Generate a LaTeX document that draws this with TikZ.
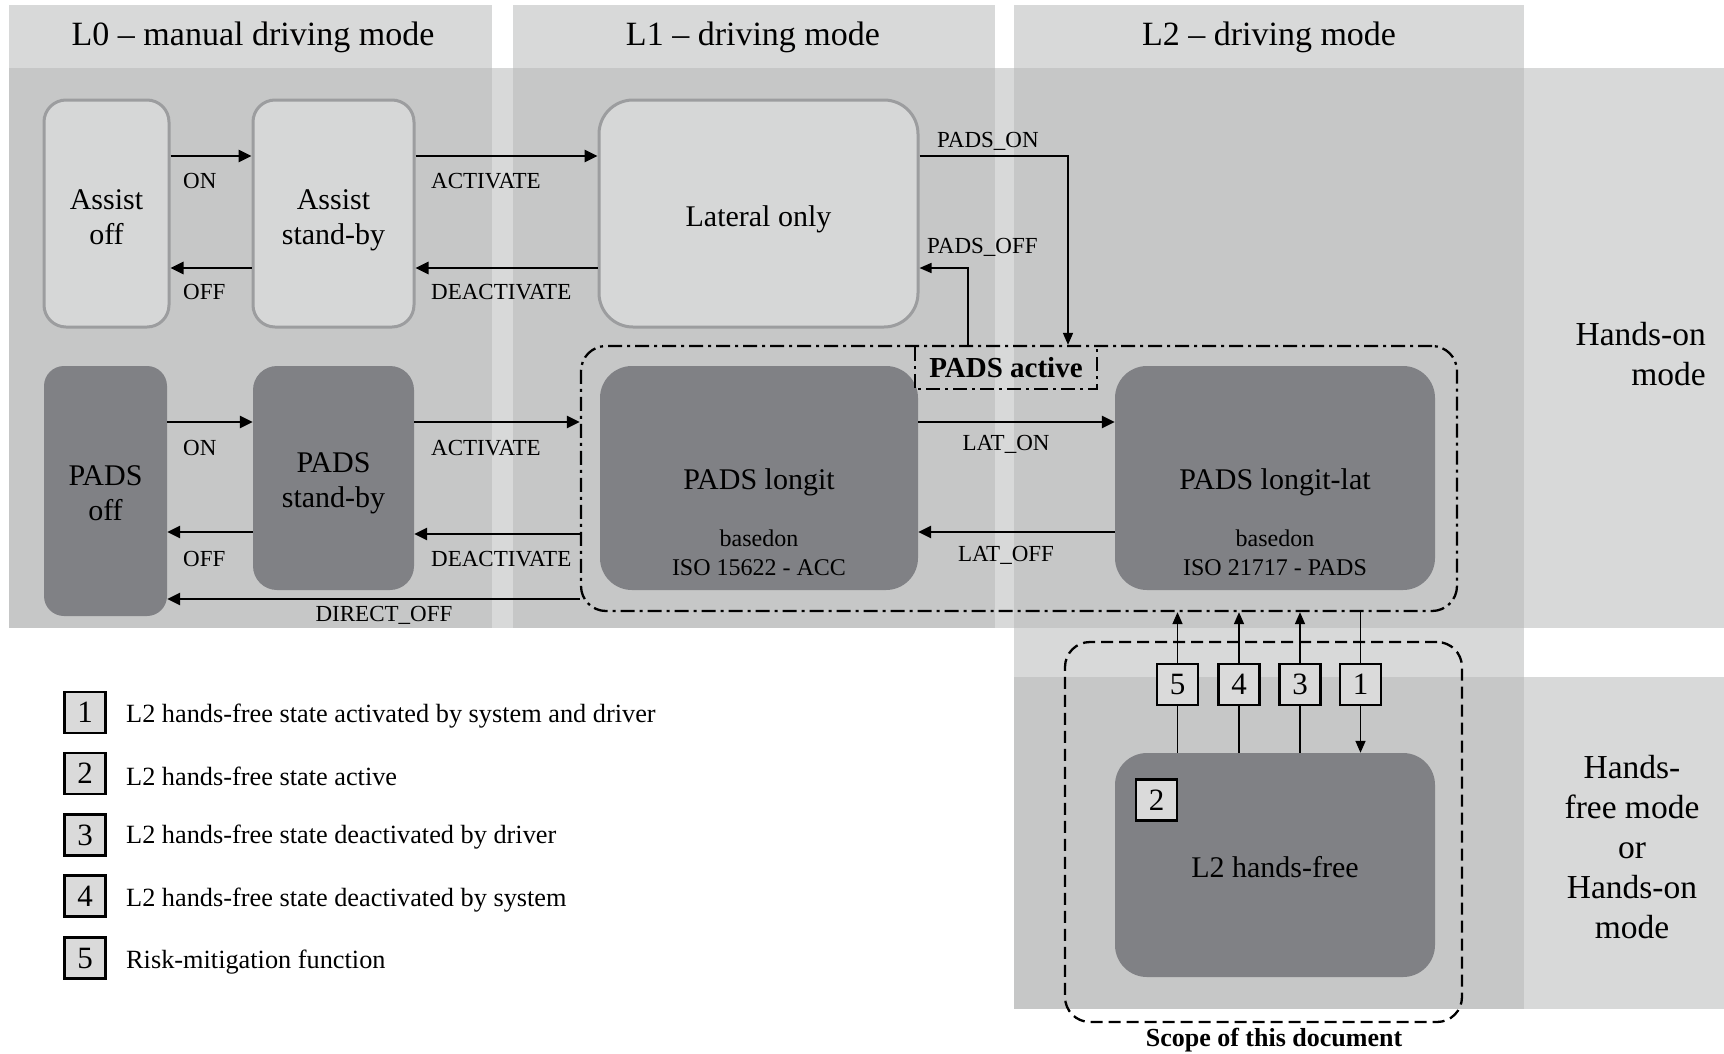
\documentclass[tikz,border=0pt]{standalone}
\usepackage{fontspec}
\setmainfont{Liberation Serif}
\usetikzlibrary{arrows.meta}
\definecolor{bglight}{HTML}{D8D9D9}
\definecolor{bgdark}{HTML}{C6C7C7}
\definecolor{nodelight}{HTML}{D6D7D7}
\definecolor{nodeborder}{HTML}{9C9D9F}
\definecolor{nodedark}{HTML}{808185}
\definecolor{numfill}{HTML}{DADADA}
\begin{document}
\begin{tikzpicture}[x=1pt,y=-1pt,
  lightstate/.style={draw=nodeborder, line width=3pt, fill=nodelight, rounded corners=22pt, inner sep=0pt},
  darkstate/.style={fill=nodedark, rounded corners=32pt, inner sep=0pt},
  stxt/.style={inner sep=0pt, align=center, font=\fontsize{30}{35}\selectfont},
  arr/.style={line width=2.6pt, -{Triangle[length=13pt,width=12pt]}},
  thinarr/.style={line width=1.6pt, -{Triangle[length=12pt,width=10pt]}},
  thinline/.style={line width=1.6pt},
  lbl/.style={font=\fontsize{23}{27}\selectfont, inner sep=0pt},
  subtxt/.style={font=\fontsize{24}{29}\selectfont, inner sep=0pt, align=center},
  title/.style={font=\fontsize{34}{40}\selectfont, inner sep=0pt},
  sidetxt/.style={font=\fontsize{33.5}{40}\selectfont, inner sep=0pt},
  legtxt/.style={font=\fontsize{26.3}{30}\selectfont, inner sep=0pt, anchor=west},
  numbox/.style={draw=black, line width=2.6pt, fill=numfill, minimum width=41pt, minimum height=41pt, inner sep=0pt, font=\fontsize{31}{31}\selectfont},
  dashdot/.style={line width=2.3pt, dash pattern=on 14pt off 5pt on 3pt off 5pt},
]
\useasboundingbox (0,0) rectangle (1724,1053);
% background bands
\fill[bglight] (9,5) rectangle (492,628);
\fill[bglight] (513,5) rectangle (995,628);
\fill[bglight] (1014,5) rectangle (1524,1009);
\fill[bglight] (9,68) rectangle (1724,628);
\fill[bglight] (1014,677) rectangle (1724,1009);
\fill[bgdark] (9,68) rectangle (492,628);
\fill[bgdark] (513,68) rectangle (995,628);
\fill[bgdark] (1014,68) rectangle (1524,628);
\fill[bgdark] (1014,677) rectangle (1524,1009);

% titles
\node[title] (t0) at (253,37.5) {L0 – manual driving mode};
\node[title] (t1) at (753,37.5) {L1 – driving mode};
\node[title] (t2) at (1269,37.5) {L2 – driving mode};

% states
\node[lightstate, minimum width=125pt, minimum height=227pt] (asoff) at (106.5,213.5) {};
\node[stxt] (asoffT) at ([yshift=-3.5pt]asoff.center) {Assist\\off};
\node[lightstate, minimum width=161pt, minimum height=227pt] (asstb) at (333.5,213.5) {};
\node[stxt] (asstbT) at ([yshift=-6.5pt]asstb.center) {Assist\\stand-by};
\node[lightstate, rounded corners=34pt, minimum width=319pt, minimum height=227pt] (latonly) at (758.5,213.5) {};
\node[stxt] (latonlyT) at ([yshift=-5.5pt]latonly.center) {Lateral only};

\node[darkstate, rounded corners=20pt, minimum width=123pt, minimum height=250pt] (padsoff) at (105.5,491) {};
\node[stxt] (padsoffT) at ([yshift=-2.5pt]padsoff.center) {PADS\\off};
\node[darkstate, rounded corners=24pt, minimum width=161pt, minimum height=224pt] (padsstb) at (333.5,478) {};
\node[stxt] (padsstbT) at ([yshift=-5.5pt]padsstb.center) {PADS\\stand-by};
\node[darkstate, minimum width=318pt, minimum height=224pt] (plong) at (759,478) {};
\node[stxt] (plongT) at ([yshift=-4.5pt]plong.center) {PADS longit};
\node[subtxt] (plongsub) at (759,553) {basedon\\ISO 15622 - ACC};
\node[darkstate, minimum width=320pt, minimum height=224pt] (plat) at (1275,478) {};
\node[stxt] (platT) at ([yshift=-4.5pt]plat.center) {PADS longit-lat};
\node[subtxt] (platsub) at (1275,553) {basedon\\ISO 21717 - PADS};
\node[darkstate, minimum width=320pt, minimum height=224pt] (l2hf) at (1275,865) {};
\node[stxt] (l2hfT) at ([yshift=-2.5pt]l2hf.center) {L2 hands-free};

% PADS active container
\node[draw, dashdot, rounded corners=25pt, minimum width=876pt, minimum height=265pt, inner sep=0pt] (padsact) at (1019,478.5) {};
\node[font=\bfseries\fontsize{29}{33}\selectfont, minimum width=182pt, minimum height=42pt, inner sep=0pt] (padsactlbl) at (1006,368) {PADS active};
\draw[dashdot, line width=2pt] (padsactlbl.north west) -- (padsactlbl.south west) -- (padsactlbl.south east) -- (padsactlbl.north east);

% scope container
\node[draw, line width=2.3pt, dash pattern=on 12pt off 6pt, rounded corners=25pt, minimum width=397pt, minimum height=380pt, inner sep=0pt] (scope) at (1263.5,832) {};
\node[font=\bfseries\fontsize{26}{30}\selectfont, inner sep=0pt] (scopelbl) at (1274,1040) {Scope of this document};

% top row arrows
\draw[arr] (asoff.east |- 0,156) -- (asstb.west |- 0,156);
\draw[arr] (asstb.west |- 0,268) -- (asoff.east |- 0,268);
\draw[arr] (asstb.east |- 0,156) -- (latonly.west |- 0,156);
\draw[arr] (latonly.west |- 0,268) -- (asstb.east |- 0,268);
\node[lbl, anchor=west] (lon1) at (183,181) {ON};
\node[lbl, anchor=west] (loff1) at (183,292) {OFF};
\node[lbl, anchor=west] (lact1) at (431,181) {ACTIVATE};
\node[lbl, anchor=west] (ldeact1) at (431,292) {DEACTIVATE};

% PADS_ON / PADS_OFF
\draw[thinarr] (latonly.east |- 0,156) -| (padsact.north -| 1068,0);
\draw[thinarr] (padsact.north -| 968,0) |- (latonly.east |- 0,268);
\node[lbl, anchor=west] (lpadson) at (937,141) {PADS\_ON};
\node[lbl, anchor=west] (lpadsoff) at (927,247) {PADS\_OFF};

% bottom row arrows
\draw[arr] (padsoff.east |- 0,422) -- (padsstb.west |- 0,422);
\draw[arr] (padsstb.west |- 0,532) -- (padsoff.east |- 0,532);
\draw[arr] (padsstb.east |- 0,422) -- (padsact.west |- 0,422);
\draw[arr] (padsact.west |- 0,534) -- (padsstb.east |- 0,534);
\draw[arr] (padsact.west |- 0,599) -- (padsoff.east |- 0,599);
\draw[arr] (plong.east |- 0,422) -- (plat.west |- 0,422);
\draw[arr] (plat.west |- 0,532) -- (plong.east |- 0,532);
\node[lbl, anchor=west] (lon2) at (183,448) {ON};
\node[lbl, anchor=west] (loff2) at (183,559) {OFF};
\node[lbl, anchor=west] (lact2) at (431,448) {ACTIVATE};
\node[lbl, anchor=west] (ldeact2) at (431,559) {DEACTIVATE};
\node[lbl] (ldirect) at (384,615) {DIRECT\_OFF};
\node[lbl] (llaton) at (1006,444) {LAT\_ON};
\node[lbl] (llatoff) at (1006,555) {LAT\_OFF};

% numbered transitions
\node[numbox] (n5) at (1177.5,684.5) {5};
\node[numbox] (n4) at (1239,684.5) {4};
\node[numbox] (n3) at (1300,684.5) {3};
\node[numbox] (n1) at (1360.5,684.5) {1};
\node[numbox] (n2) at (1156.5,800) {2};
\draw[thinline] (l2hf.north -| n5) -- (n5.south);
\draw[thinarr] (n5.north) -- (padsact.south -| n5);
\draw[thinline] (l2hf.north -| n4) -- (n4.south);
\draw[thinarr] (n4.north) -- (padsact.south -| n4);
\draw[thinline] (l2hf.north -| n3) -- (n3.south);
\draw[thinarr] (n3.north) -- (padsact.south -| n3);
\draw[thinline] (padsact.south -| n1) -- (n1.north);
\draw[thinarr] (n1.south) -- (l2hf.north -| n1);

% side labels
\node[sidetxt, align=right, anchor=east] (handson) at (1706,354) {Hands-on\\mode};
\node[sidetxt, align=center] (handsfree) at (1632,847) {Hands-\\free mode\\or\\Hands-on\\mode};

% legend
\node[numbox] (lg1) at (85,712.5) {1};
\node[numbox] (lg2) at (85,773.5) {2};
\node[numbox] (lg3) at (85,835) {3};
\node[numbox] (lg4) at (85,896) {4};
\node[numbox] (lg5) at (85,958) {5};
\node[legtxt] (lt1) at (126,716) {L2 hands-free state activated by system and driver};
\node[legtxt] (lt2) at (126,776) {L2 hands-free state active};
\node[legtxt] (lt3) at (126,837) {L2 hands-free state deactivated by driver};
\node[legtxt] (lt4) at (126,900) {L2 hands-free state deactivated by system};
\node[legtxt] (lt5) at (126,962) {Risk-mitigation function};
\end{tikzpicture}
\end{document}
